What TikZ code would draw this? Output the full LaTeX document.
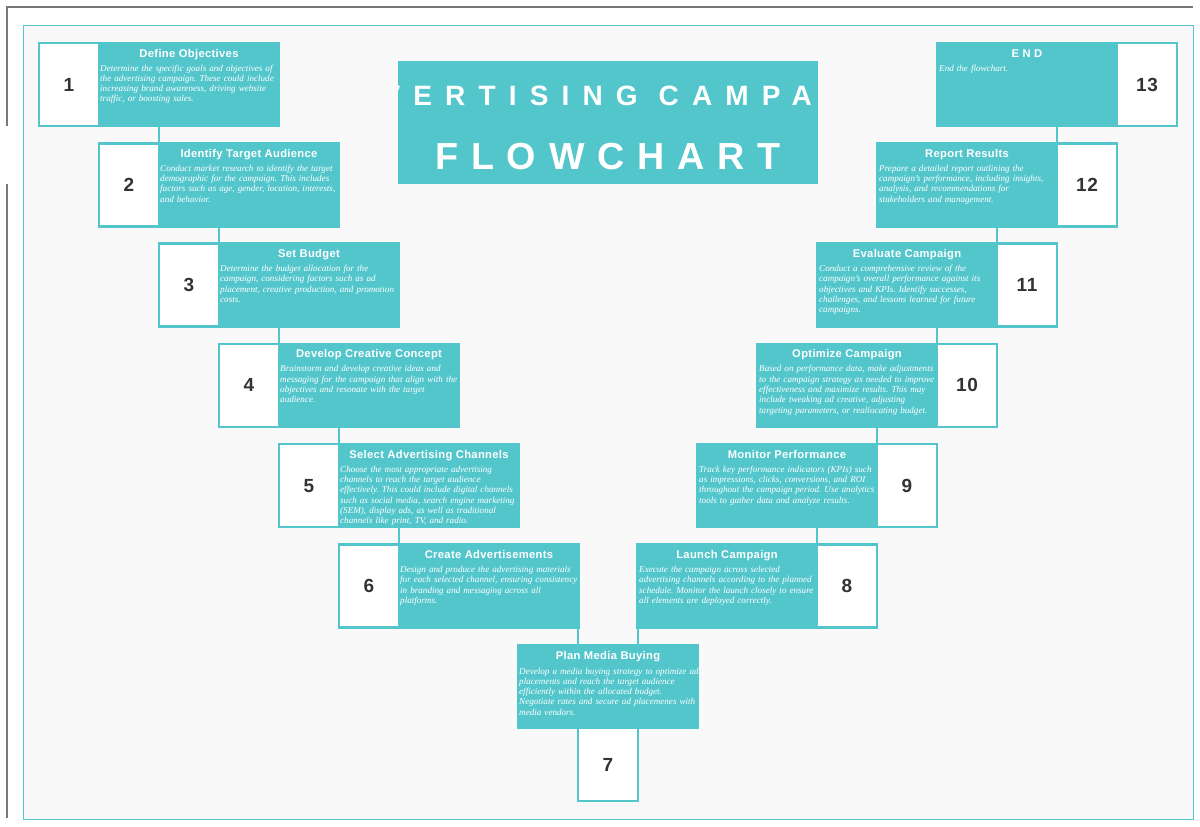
\documentclass[tikz,border=0pt]{standalone}
\usepackage{fontspec}
\setmainfont{Liberation Serif}
\setsansfont{Liberation Sans}
\usetikzlibrary{calc}
\definecolor{tealc}{RGB}{83,198,204}
\definecolor{numc}{RGB}{51,51,51}
\definecolor{bgc}{RGB}{249,249,249}
\definecolor{framegray}{RGB}{120,120,120}
\newfontfamily\ttlfont{Liberation Sans}[LetterSpace=3]
\newfontfamily\numfont{Liberation Sans}[LetterSpace=4]
\newfontfamily\bigAfont{Liberation Sans}[LetterSpace=47]
\newfontfamily\bigBfont{Liberation Sans}[LetterSpace=34]
\tikzset{
  numbox/.style={draw=tealc, fill=white, line width=2.5pt, minimum width=60pt, minimum height=83pt,
    inner sep=0pt, outer sep=0pt, anchor=north west, text=numc,
    font=\numfont\fontsize{19}{21}\selectfont\bfseries},
  bodybox/.style={draw=tealc, fill=tealc, line width=2.5pt, minimum width=180pt, minimum height=83pt,
    inner sep=0pt, outer sep=0pt, anchor=north west},
  ttl/.style={anchor=base, text=white, inner sep=0pt, font=\ttlfont\fontsize{11.2}{12}\selectfont\bfseries},
  dsc/.style={anchor=base west, text=white, inner sep=0pt, text width=200pt, align=left,
    font=\fontsize{9.1}{10.3}\selectfont\itshape\frenchspacing},
  conn/.style={draw=tealc, line width=2.5pt},
}
\newcommand\leftstep[6]{%
  \node[numbox] (n#1) at (#2,#3) {#4};
  \node[bodybox] (b#1) at (#2+60,#3) {};
  \node[ttl] (t#1) at ([yshift=-14pt]b#1.north) {#5};
  \node[dsc] (d#1) at ([xshift=1pt,yshift=-28pt]b#1.north west) {#6};
}
\newcommand\rightstep[6]{%
  \node[bodybox] (b#1) at (#2,#3) {};
  \node[numbox] (n#1) at (#2+180,#3) {#4};
  \node[ttl] (t#1) at ([yshift=-14pt]b#1.north) {#5};
  \node[dsc] (d#1) at ([xshift=2pt,yshift=-28pt]b#1.north west) {#6};
}
\begin{document}
\begin{tikzpicture}[x=1pt,y=-1pt]
\useasboundingbox (0,0) rectangle (1200,827);
\fill[white] (0,0) rectangle (1200,827);
\draw[framegray, line width=1.3pt] (7,126) -- (7,7) -- (1193,7);
\draw[framegray, line width=1.3pt] (7,184) -- (7,818);
\draw[tealc, line width=1pt, fill=bgc] (23,25) rectangle (1193,819);

% title
\node[fill=tealc, minimum width=420pt, minimum height=123pt, anchor=north west, inner sep=0pt, outer sep=0pt] (tbox) at (398,61) {};
\begin{scope}
\clip (398,61) rectangle (818,184);
\node[anchor=base, text=white, inner sep=0pt, font=\bigAfont\fontsize{28}{30}\selectfont\bfseries] (tl1) at (608,105) {ADVERTISING CAMPAIGN};
\node[anchor=base, text=white, inner sep=0pt, font=\bigBfont\fontsize{37.7}{40}\selectfont\bfseries] (tl2) at (608,169) {FLOWCHART};
\end{scope}

% left steps
\leftstep{1}{39}{43}{1}{Define Objectives}{Determine the specific goals and objectives of\\the advertising campaign. These could include\\increasing brand awareness, driving website\\traffic, or boosting sales.}
\leftstep{2}{99}{143.3}{2}{Identify Target Audience}{Conduct market research to identify the target\\demographic for the campaign. This includes\\factors such as age, gender, location, interests,\\and behavior.}
\leftstep{3}{159}{243.6}{3}{Set Budget}{Determine the budget allocation for the\\campaign, considering factors such as ad\\placement, creative production, and promotion\\costs.}
\leftstep{4}{219}{343.9}{4}{Develop Creative Concept}{Brainstorm and develop creative ideas and\\messaging for the campaign that align with the\\objectives and resonate with the target\\audience.}
\leftstep{5}{279}{444.2}{5}{Select Advertising Channels}{Choose the most appropriate advertising\\channels to reach the target audience\\effectively. This could include digital channels\\such as social media, search engine marketing\\(SEM), display ads, as well as traditional\\channels like print, TV, and radio.}
\leftstep{6}{339}{544.5}{6}{Create Advertisements}{Design and produce the advertising materials\\for each selected channel, ensuring consistency\\in branding and messaging across all\\platforms.}

% right steps
\rightstep{13}{937}{43}{13}{E N D}{End the flowchart.}
\rightstep{12}{877}{143.3}{12}{Report Results}{Prepare a detailed report outlining the\\campaign's performance, including insights,\\analysis, and recommendations for\\stakeholders and management.}
\rightstep{11}{817}{243.6}{11}{Evaluate Campaign}{Conduct a comprehensive review of the\\campaign's overall performance against its\\objectives and KPIs. Identify successes,\\challenges, and lessons learned for future\\campaigns.}
\rightstep{10}{757}{343.9}{10}{Optimize Campaign}{Based on performance data, make adjustments\\to the campaign strategy as needed to improve\\effectiveness and maximize results. This may\\include tweaking ad creative, adjusting\\targeting parameters, or reallocating budget.}
\rightstep{9}{697}{444.2}{9}{Monitor Performance}{Track key performance indicators (KPIs) such\\as impressions, clicks, conversions, and ROI\\throughout the campaign period. Use analytics\\tools to gather data and analyze results.}
\rightstep{8}{637}{544.5}{8}{Launch Campaign}{Execute the campaign across selected\\advertising channels according to the planned\\schedule. Monitor the launch closely to ensure\\all elements are deployed correctly.}

% bottom step
\node[bodybox] (b7) at (518,645) {};
\node[numbox, minimum height=73pt] (n7) at (578,728) {7};
\node[ttl] (t7) at ([yshift=-14pt]b7.north) {Plan Media Buying};
\node[dsc] (d7) at ([xshift=1pt,yshift=-29pt]b7.north west) {Develop a media buying strategy to optimize ad\\placements and reach the target audience\\efficiently within the allocated budget.\\Negotiate rates and secure ad placemenes with\\media vendors.};

% connectors
\draw[conn] (b1.south -| n2.north east) -- (n2.north east);
\draw[conn] (b2.south -| n3.north east) -- (n3.north east);
\draw[conn] (b3.south -| n4.north east) -- (n4.north east);
\draw[conn] (b4.south -| n5.north east) -- (n5.north east);
\draw[conn] (b5.south -| n6.north east) -- (n6.north east);
\draw[conn] (b6.south -| n7.north west) -- (b7.north -| n7.north west);
\draw[conn] (b8.south -| n7.north east) -- (b7.north -| n7.north east);
\draw[conn] (b9.south -| n8.north west) -- (n8.north west);
\draw[conn] (b10.south -| n9.north west) -- (n9.north west);
\draw[conn] (b11.south -| n10.north west) -- (n10.north west);
\draw[conn] (b12.south -| n11.north west) -- (n11.north west);
\draw[conn] (b13.south -| n12.north west) -- (n12.north west);
\end{tikzpicture}
\end{document}
